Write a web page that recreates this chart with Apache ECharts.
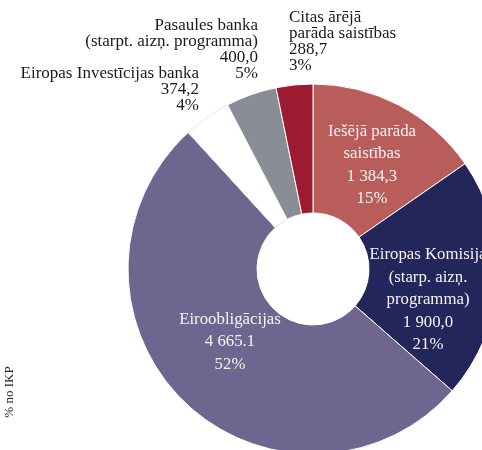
<!DOCTYPE html>
<html>
<head>
<meta charset="utf-8">
<script src="https://cdn.jsdelivr.net/npm/echarts@6/dist/echarts.min.js"></script>
<style>
html,body{margin:0;padding:0;background:#fff;}
#chart{width:482px;height:450px;}
</style>
</head>
<body>
<div id="chart"></div>
<script>
// Data
const names = [
  'Iešējā parāda\nsaistības',
  'Eiropas Komisija\n(starp. aizņ.\nprogramma)',
  'Eiroobligācijas',
  'Eiropas Investīcijas banka',
  'Pasaules banka\n(starpt. aizņ. programma)',
  'Citas ārējā\nparāda saistības'
];
const values = [1384.3, 1900.0, 4665.1, 374.2, 400.0, 288.7];
const valueLabels = ['1 384,3', '1 900,0', '4 665.1', '374,2', '400,0', '288,7'];
const percentLabels = ['15%', '21%', '52%', '4%', '5%', '3%'];
const colors = ['#b95d5b', '#23265b', '#6e668f', '#ffffff', '#898d95', '#9d1a30'];
const yAxisTitle = '% no IKP';

// Layout (label placement)
const labelPlacement = [
  {x: 372, y: 165, align: 'center', verticalAlign: 'middle'},
  {x: 428, y: 300, align: 'center', verticalAlign: 'middle'},
  {x: 230, y: 342, align: 'center', verticalAlign: 'middle'},
  {x: 199, y: 66, align: 'right', verticalAlign: 'top'},
  {x: 258, y: 18, align: 'right', verticalAlign: 'top'},
  {x: 289, y: 10, align: 'left', verticalAlign: 'top'}
];
const insideIdx = [0, 1, 2];

const chart = echarts.init(document.getElementById('chart'), null, {renderer: 'canvas'});
const FONT = '"Liberation Serif", "DejaVu Serif", serif';

const data = values.map((v, i) => {
  const inside = insideIdx.includes(i);
  return {
    name: names[i],
    value: v,
    itemStyle: {
      color: colors[i],
      borderColor: i === 3 ? '#d4d4d4' : '#ffffff',
      borderWidth: i === 3 ? 0.6 : 1
    },
    label: {
      show: true,
      position: inside ? 'inside' : 'outside',
      formatter: names[i] + '\n' + valueLabels[i] + '\n' + percentLabels[i],
      color: inside ? '#f6f2f4' : '#1a1a1a',
      fontFamily: FONT,
      fontSize: inside ? 16.8 : 17,
      lineHeight: inside ? 22.5 : 16,
      align: inside ? 'center' : labelPlacement[i].align
    },
    labelLine: {show: false}
  };
});

chart.setOption({
  animation: false,
  backgroundColor: '#ffffff',
  graphic: [{
    type: 'text',
    x: 10,
    y: 392,
    rotation: Math.PI / 2,
    style: {
      text: yAxisTitle,
      font: '13px ' + FONT,
      fill: '#222',
      textAlign: 'center',
      textVerticalAlign: 'middle'
    }
  }],
  series: [{
    type: 'pie',
    center: [313, 269],
    radius: [56, 185],
    startAngle: 90,
    clockwise: true,
    avoidLabelOverlap: false,
    data: data,
    labelLayout: function (p) {
      const lp = labelPlacement[p.dataIndex];
      return {x: lp.x, y: lp.y, align: lp.align, verticalAlign: lp.verticalAlign};
    }
  }]
});
</script>
</body>
</html>
